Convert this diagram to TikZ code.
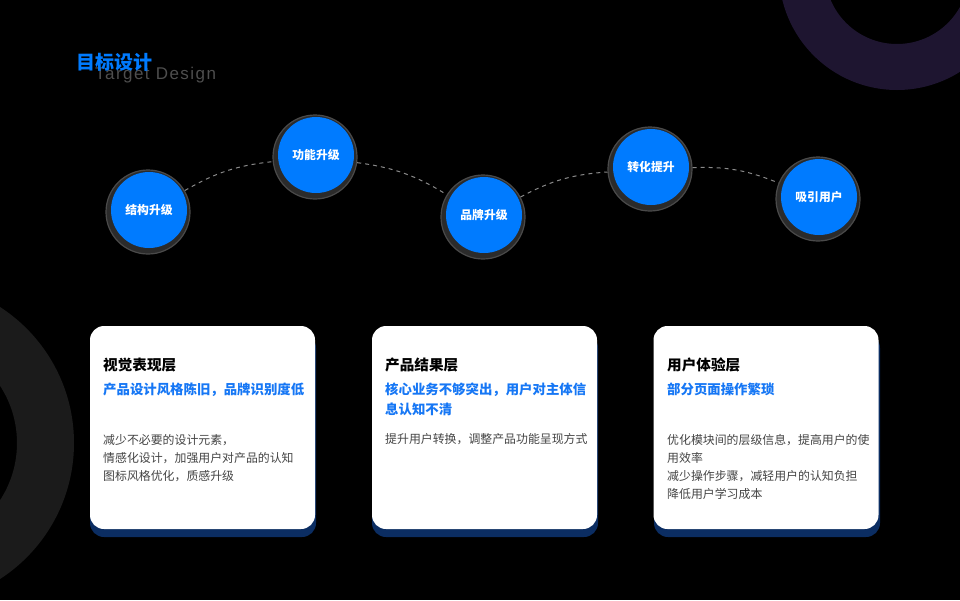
\documentclass[tikz,border=0pt]{standalone}
\usepackage{fontspec}
\setmainfont{Noto Sans CJK SC}
\newfontfamily\latinfont[LetterSpace=8.5]{Liberation Sans}
\definecolor{mainblue}{HTML}{007BFF}
\definecolor{subblue}{HTML}{1677F5}
\definecolor{bodygray}{HTML}{444444}
\definecolor{ringpurple}{HTML}{1E1530}
\definecolor{ringgray}{HTML}{1B1B1B}
\definecolor{cardshadow}{HTML}{0B2D62}
\definecolor{bubring}{HTML}{2B2B2B}
\definecolor{bubrim}{HTML}{4A4A4A}
\definecolor{dashgray}{HTML}{8A8A8A}
\definecolor{engray}{HTML}{4E4E4E}
\tikzset{
  bubble/.style={circle, fill=mainblue, minimum size=76pt, inner sep=0pt, text=white,
    font=\fontsize{11.8}{14}\selectfont\bfseries},
  bubblering/.style={circle, fill=bubring, draw=bubrim, line width=1.2pt, minimum size=84pt, inner sep=0pt},
  conn/.style={draw=dashgray, line width=1pt, dash pattern=on 4pt off 4pt},
  cardbox/.style={rectangle, rounded corners=14pt, fill=white, minimum width=225pt, minimum height=203pt, inner sep=0pt},
  cardback/.style={rectangle, rounded corners=14pt, fill=cardshadow, minimum width=226pt, minimum height=203pt, inner sep=0pt},
  cardtitle/.style={anchor=base west, inner sep=0pt, text=black, font=\fontsize{14.6}{18}\selectfont\bfseries},
  cardsub/.style={anchor=base west, inner sep=0pt, text=subblue, align=left, font=\fontsize{13.4}{19.5}\selectfont\bfseries},
  cardbody/.style={anchor=base west, inner sep=0pt, text=bodygray, align=left, font=\fontsize{11.9}{18.2}\selectfont},
}
\begin{document}
\begin{tikzpicture}[x=1pt,y=-1pt]
\useasboundingbox (0,0) rectangle (960,600);
\clip (0,0) rectangle (960,600);
\fill[black] (0,0) rectangle (960,600);
% decorative rings
\fill[ringpurple, even odd rule] (897,-28) circle[radius=118pt] (897,-28) circle[radius=72pt];
\fill[ringgray, even odd rule] (-88,443) circle[radius=162pt] (-88,443) circle[radius=105pt];
% title
\node[anchor=base west, inner sep=0pt, text=engray, font=\latinfont\fontsize{17}{20}\selectfont] (entitle) at (95,79) {Target Design};
\node[anchor=base west, inner sep=0pt, text=mainblue, font=\fontsize{19}{22}\selectfont\bfseries] (title) at (76,69) {目标设计};
% bubbles
\node[bubblering] (r1) at (148,212) {};
\node[bubblering] (r2) at (315,157) {};
\node[bubblering] (r3) at (483,217) {};
\node[bubblering] (r4) at (650,169) {};
\node[bubblering] (r5) at (818,199) {};
\draw[conn] (r1) to[bend left=12] (r2);
\draw[conn] (r2) to[bend left=12] (r3);
\draw[conn] (r3) to[bend left=12] (r4);
\draw[conn] (r4) to[bend left=12] (r5);
\node[bubble] (b1) at (149,210) {结构升级};
\node[bubble] (b2) at (316,155) {功能升级};
\node[bubble] (b3) at (484,215) {品牌升级};
\node[bubble] (b4) at (651,167) {转化提升};
\node[bubble] (b5) at (819,197) {吸引用户};
% cards
\node[cardback] (s1) at (203,435.5) {};
\node[cardback] (s2) at (485,435.5) {};
\node[cardback] (s3) at (767,435.5) {};
\node[cardbox] (c1) at (202.5,427.5) {};
\node[cardbox] (c2) at (484.5,427.5) {};
\node[cardbox] (c3) at (766,427.5) {};
% card 1 (multi-line nodes are placed by the baseline of their last line)
\node[cardtitle] (t1) at (103,370.3) {视觉表现层};
\node[cardsub] (u1) at (103,394.8) {产品设计风格陈旧，品牌识别度低};
\node[cardbody] (d1) at (103,480.7) {减少不必要的设计元素，\\情感化设计，加强用户对产品的认知\\图标风格优化，质感升级};
% card 2
\node[cardtitle] (t2) at (385,370.3) {产品结果层};
\node[cardsub] (u2) at (385,414.3) {核心业务不够突出，用户对主体信\\息认知不清};
\node[cardbody] (d2) at (385,443.8) {提升用户转换，调整产品功能呈现方式};
% card 3
\node[cardtitle] (t3) at (667,370.3) {用户体验层};
\node[cardsub] (u3) at (667,394.8) {部分页面操作繁琐};
\node[cardbody] (d3) at (667,498.9) {优化模块间的层级信息，提高用户的使\\用效率\\减少操作步骤，减轻用户的认知负担\\降低用户学习成本};
\end{tikzpicture}
\end{document}
